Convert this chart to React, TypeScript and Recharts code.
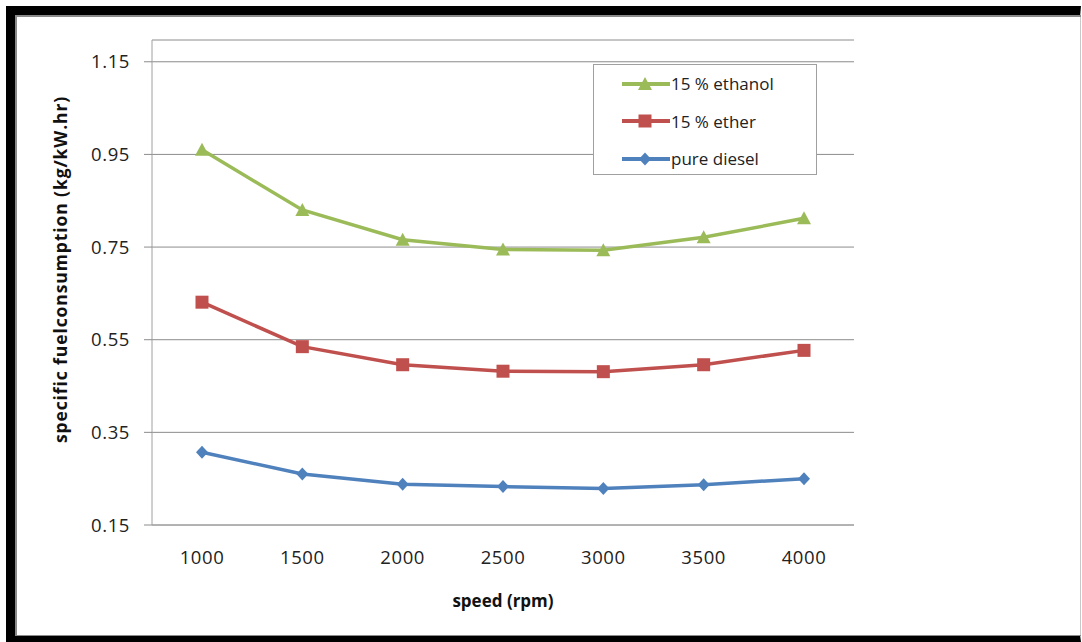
import { LineChart, Line, XAxis, YAxis, CartesianGrid, Legend } from 'recharts';

// rotações do motor (rpm)
const speeds = ['1000', '1500', '2000', '2500', '3000', '3500', '4000'];

// consumo específico (kg/kW.hr)
const ethanol15 = [0.96, 0.83, 0.766, 0.745, 0.743, 0.771, 0.812];
const ether15 = [0.631, 0.535, 0.496, 0.482, 0.481, 0.496, 0.527];
const pureDiesel = [0.307, 0.26, 0.238, 0.233, 0.229, 0.237, 0.25];

const yTicks = [0.15, 0.35, 0.55, 0.75, 0.95, 1.15];

const COLORS = {
  ethanol: '#9BBB59',
  ether: '#C0504D',
  diesel: '#4F81BD',
};

const FONT = '"Open Sans", Lato, sans-serif';

const data = speeds.map((speed, i) => ({
  speed,
  ethanol: ethanol15[i],
  ether: ether15[i],
  diesel: pureDiesel[i],
}));

const Triangle = (props: any) => {
  const { cx, cy } = props;
  if (cx == null || cy == null) return null;
  return <polygon points={`${cx},${cy - 7} ${cx + 7},${cy + 6} ${cx - 7},${cy + 6}`} fill={COLORS.ethanol} />;
};

const Square = (props: any) => {
  const { cx, cy } = props;
  if (cx == null || cy == null) return null;
  return <rect x={cx - 6.5} y={cy - 6.5} width={13} height={13} fill={COLORS.ether} />;
};

const Diamond = (props: any) => {
  const { cx, cy } = props;
  if (cx == null || cy == null) return null;
  return <polygon points={`${cx},${cy - 6.5} ${cx + 6},${cy} ${cx},${cy + 6.5} ${cx - 6},${cy}`} fill={COLORS.diesel} />;
};

const legendItems = [
  { label: '15 % ethanol', color: COLORS.ethanol, Marker: Triangle },
  { label: '15 % ether', color: COLORS.ether, Marker: Square },
  { label: 'pure diesel', color: COLORS.diesel, Marker: Diamond },
];

// legenda no estilo do Excel, com caixa cinza
const renderLegend = () => (
  <div
    style={{
      width: 224,
      height: 111,
      border: '1px solid #a0a0a0',
      background: '#fff',
      boxSizing: 'border-box',
      paddingTop: 0,
      fontFamily: FONT,
      fontSize: 17,
      color: '#222',
    }}
  >
    {legendItems.map(({ label, color, Marker }) => (
      <div key={label} style={{ display: 'flex', alignItems: 'center', height: 37.5 }}>
        <svg width={77} height={20} style={{ flex: 'none' }}>
          <line x1={28} y1={10} x2={76} y2={10} stroke={color} strokeWidth={4} />
          <Marker cx={51} cy={10} />
        </svg>
        <span>{label}</span>
      </div>
    ))}
  </div>
);

const YTitle = (props: any) => {
  const { viewBox } = props;
  const cy = viewBox.y + viewBox.height / 2 - 13;
  return (
    <text
      x={62}
      y={cy}
      transform={`rotate(-90, 62, ${cy})`}
      textAnchor="middle"
      dominantBaseline="middle"
      fontFamily={FONT}
      fontWeight="bold"
      fontSize={17.5}
      letterSpacing={0.9}
      fill="#111"
    >
      specific fuelconsumption (kg/kW.hr)
    </text>
  );
};

export default function App() {
  return (
    <div style={{ position: 'absolute', left: 0, top: 0, width: 1082, height: 642, background: '#fff', overflow: 'hidden' }}>
      {/* moldura preta */}
      <div
        style={{
          position: 'absolute',
          left: 6,
          top: 6,
          width: 1082 - 6 - 1,
          height: 642 - 6,
          borderTop: '9px solid #000',
          borderLeft: '9px solid #000',
          borderBottom: '6px solid #000',
          borderRight: '1px solid #c8c8c8',
          boxSizing: 'border-box',
        }}
      />
      <div
        style={{
          position: 'absolute',
          left: 15,
          top: 15,
          width: 1082 - 15 - 1,
          height: 636 - 15,
          borderTop: '2px solid #8a8a8a',
          borderLeft: '2px solid #8a8a8a',
          borderBottom: '1px solid #8a8a8a',
          boxSizing: 'border-box',
        }}
      />
      <div style={{ position: 'absolute', left: 0, top: 0 }}>
        <LineChart width={1082} height={642} data={data} margin={{ top: 40, right: 228, bottom: 0, left: 0 }}>
          <CartesianGrid horizontal vertical={false} stroke="#8c8c8c" />
          <XAxis
            dataKey="speed"
            height={117}
            padding={{ left: 50, right: 50 }}
            tickLine={false}
            tickSize={0}
            tickMargin={26}
            axisLine={{ stroke: '#a0a0a0' }}
            tick={{ fontFamily: FONT, fontSize: 18.5, fill: '#222', letterSpacing: 0.6 }}
            label={{ value: 'speed (rpm)', position: 'insideBottom', offset: 35, fontFamily: FONT, fontWeight: 'bold', fontSize: 17, fill: '#111' }}
          />
          <XAxis xAxisId="top" orientation="top" height={0} tick={false} tickLine={false} axisLine={{ stroke: '#a0a0a0' }} />
          <YAxis
            width={152}
            domain={[0.15, 1.197]}
            ticks={yTicks}
            tickFormatter={(v: number) => v.toFixed(2)}
            allowDataOverflow
            tickSize={8}
            tickMargin={14}
            tickLine={{ stroke: '#8c8c8c' }}
            axisLine={{ stroke: '#a0a0a0' }}
            tick={{ fontFamily: FONT, fontSize: 18.5, fill: '#222', letterSpacing: 0.6 }}
            label={<YTitle />}
          />
          <YAxis yAxisId="right" orientation="right" width={0} tick={false} tickLine={false} axisLine={{ stroke: '#a0a0a0' }} />
          <Legend
            content={renderLegend}
            layout="vertical"
            align="center"
            verticalAlign="middle"
            wrapperStyle={{ position: 'absolute', left: 593, top: 64, width: 224 }}
          />
          <Line dataKey="diesel" name="pure diesel" stroke={COLORS.diesel} strokeWidth={3.5} dot={<Diamond />} activeDot={false} isAnimationActive={false} />
          <Line dataKey="ether" name="15 % ether" stroke={COLORS.ether} strokeWidth={3.5} dot={<Square />} activeDot={false} isAnimationActive={false} />
          <Line dataKey="ethanol" name="15 % ethanol" stroke={COLORS.ethanol} strokeWidth={3.5} dot={<Triangle />} activeDot={false} isAnimationActive={false} />
        </LineChart>
      </div>
    </div>
  );
}
